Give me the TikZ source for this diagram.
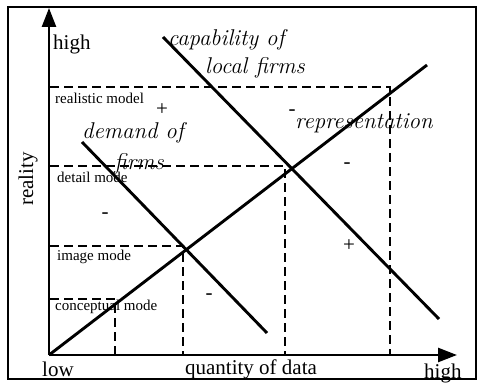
\documentclass[tikz,border=0pt]{standalone}
\usepackage{fontspec}
\newfontfamily\tms{Liberation Serif}
\usetikzlibrary{arrows.meta}
\tikzset{
  axisline/.style={line width=2.6pt,-{Triangle[length=19pt,width=14pt]}},
  curve/.style={line width=2.9pt},
  guide/.style={line width=1.5pt,dash pattern=on 9pt off 5pt},
  small/.style={font=\tms\fontsize{15}{17}\selectfont,inner sep=0pt,anchor=west},
  big/.style={font=\tms\fontsize{21}{24}\selectfont,inner sep=0pt},
  ital/.style={font=\fontsize{22.8}{26}\selectfont\itshape,inner sep=0pt},
  sign/.style={font=\tms\fontsize{21}{23}\selectfont,inner sep=0pt}
}
\begin{document}
\begin{tikzpicture}[x=1pt,y=-1pt]
\useasboundingbox (0,0) rectangle (479,385);
\draw[line width=2.4pt] (8,7) rectangle (476,379);
% coordinates
\coordinate (O) at (49,355);
\coordinate (Ytop) at (49,8);
\coordinate (Xend) at (457,355);
\coordinate (R) at (427,65);
\coordinate (C1) at (163,37);
\coordinate (C2) at (439,319);
\coordinate (D1) at (82,142);
\coordinate (D2) at (267,333);
\coordinate (h1) at (50,87);  \coordinate (k1) at (390,87);  \coordinate (b1) at (390,355);
\coordinate (h2) at (50,166); \coordinate (k2) at (285,166); \coordinate (b2) at (285,355);
\coordinate (h3) at (50,246); \coordinate (k3) at (183,246); \coordinate (b3) at (183,355);
\coordinate (h4) at (50,299); \coordinate (k4) at (115,299); \coordinate (b4) at (115,355);
% dashed guides
\draw[guide] (h1) -- (k1) -- (b1);
\draw[guide] (h2) -- (k2) -- (b2);
\draw[guide] (h3) -- (k3) -- (b3);
\draw[guide] (h4) -- (k4) -- (b4);
% axes
\draw[axisline] (O) -- (Ytop);
\draw[axisline] (O) -- (Xend);
% curves
\draw[curve] (O) -- (R);
\draw[curve] (C1) -- (C2);
\draw[curve] (D1) -- (D2);
% labels
\node[big,anchor=west] (hiY) at (53,44) {high};
\node[big,anchor=west] (lo) at (42,369) {low};
\node[big] (qd) at (251,369) {quantity of data};
\node[big,anchor=west] (hiX) at (424,373) {high};
\node[big,rotate=90] (re) at (28,179) {reality};
\node[small] (m1) at (55,98) {realistic model};
\node[small] (m2) at (57,177) {detail mode};
\node[small] (m3) at (57,257) {image mode};
\node[small] (m4) at (55,307) {conceptual mode};
\node[ital,anchor=west] (cap1) at (168,40) {capability of};
\node[ital,anchor=west] (cap2) at (205,68) {local firms};
\node[ital,anchor=west] (dem1) at (82,133) {demand of};
\node[ital] (dem2) at (139,164) {firms};
\node[ital,anchor=west] (rep) at (295,123) {representation};
% signs
\node[sign] (s1) at (162,110) {+};
\node[sign] (s2) at (105,216) {-};
\node[sign] (s3) at (209,297) {-};
\node[sign] (s4) at (292,113) {-};
\node[sign] (s5) at (347,166) {-};
\node[sign] (s6) at (349,246) {+};
\end{tikzpicture}
\end{document}
